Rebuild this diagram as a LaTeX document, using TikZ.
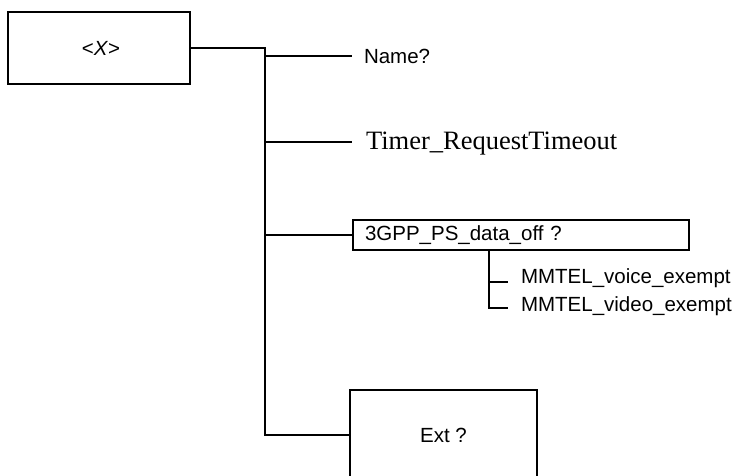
\documentclass[tikz,border=0pt]{standalone}
\usepackage{fontspec}
\setmainfont{Liberation Sans}
\newfontfamily\tnr{Liberation Serif}
\begin{document}
\begin{tikzpicture}[x=1pt,y=-1pt,line width=2pt,
  box/.style={draw,line width=2pt,inner sep=0pt,outer sep=0pt,anchor=north west,font=\fontsize{20.5}{24}\selectfont},
  lbl/.style={inner sep=0pt,anchor=base west,font=\fontsize{20.5}{24}\selectfont},
  conn/.style={line width=2pt}]
\useasboundingbox (0,0) rectangle (741,475);
\clip (0,0) rectangle (741,475);
% boxes
\node[box,minimum width=182pt,minimum height=72pt] (X) at (8,12) {\hspace{4pt}<\textit{X}>};
\node[box,minimum width=336pt,minimum height=30pt,text width=312pt,align=left,inner xsep=12pt] (P) at (353,220) {3GPP\_PS\_data\_off ?};
\node[box,minimum width=187pt,minimum height=90pt] (E) at (350,390) {Ext ?};
% labels
\node[lbl] (name) at (363,63) {Name?};
\node[lbl,font=\tnr\fontsize{26.5}{30}\selectfont] (timer) at (365,149) {Timer\_RequestTimeout};
\node[lbl] (voice) at (520,283) {MMTEL\_voice\_exempt};
\node[lbl] (video) at (520,311) {MMTEL\_video\_exempt};
% coordinates
\coordinate (top) at (265,48);
\coordinate (bot) at (265,435);
\coordinate (nameEnd) at (352,56);
\coordinate (timerEnd) at (352,142);
\coordinate (subTop) at (489,250);
\coordinate (voiceEnd) at (508,282);
\coordinate (videoEnd) at (508,308);
% connectors
\draw[conn] (X.east) -- (X.east -| top) -- (top |- E.west) -- (E.west);
\draw[conn] (top |- nameEnd) -- (nameEnd);
\draw[conn] (top |- timerEnd) -- (timerEnd);
\draw[conn] (top |- P.west) -- (P.west);
\draw[conn] (subTop) -- (subTop |- videoEnd) -- (videoEnd);
\draw[conn] (subTop |- voiceEnd) -- (voiceEnd);
\end{tikzpicture}
\end{document}
